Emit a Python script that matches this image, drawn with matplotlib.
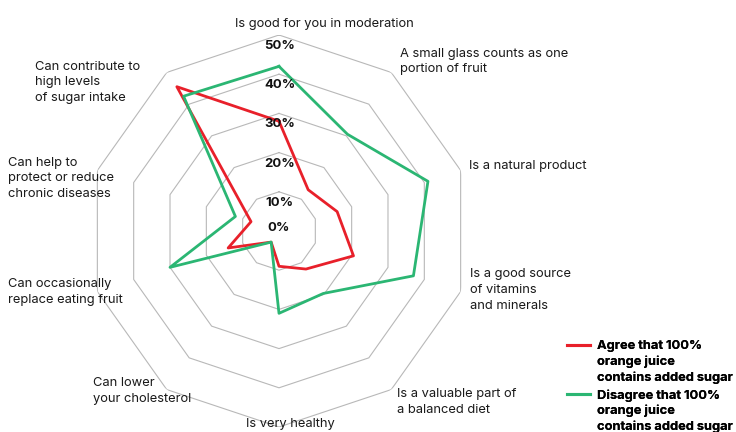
import numpy as np
import matplotlib
matplotlib.use("Agg")
import matplotlib.pyplot as plt
from matplotlib.lines import Line2D

plt.rcParams['font.family'] = ['Inter', 'DejaVu Sans']

categories = [
    "Is good for you in moderation",
    "A small glass counts as one\nportion of fruit",
    "Is a natural product",
    "Is a good source\nof vitamins\nand minerals",
    "Is a valuable part of\na balanced diet",
    "Is very healthy",
    "Can lower\nyour cholesterol",
    "Can occasionally\nreplace eating fruit",
    "Can help to\nprotect or reduce\nchronic diseases",
    "Can contribute to\nhigh levels\nof sugar intake",
]
agree = [28, 13, 16, 20.5, 12, 9, 3.5, 14, 7.7, 45.5]
disagree = [42, 30.5, 41, 37, 19.7, 21, 3.5, 30, 12, 42.5]
ticks = [0, 10, 20, 30, 40, 50]
tick_labels = ["0%", "10%", "20%", "30%", "40%", "50%"]
series_names = [["Agree that 100%", "orange juice", "contains added sugar"],
                ["Disagree that 100%", "orange juice", "contains added sugar"]]

RED = "#E8202A"
GREEN = "#2BB673"
GRID = "#b8b8b8"

W, H = 736, 432
fig = plt.figure(figsize=(W / 100, H / 100), dpi=100)
cx, cy = 279, 231
rx, ry = 191, 196
ax = fig.add_axes([(cx - rx) / W, 1 - (cy + ry) / H, 2 * rx / W, 2 * ry / H],
                  projection='polar')
ax.set_aspect('auto')
ax.set_theta_zero_location('N')
ax.set_theta_direction(-1)
ax.set_ylim(0, 50)
ax.grid(False)
ax.set_xticks([])
ax.set_yticks([])
ax.spines['polar'].set_visible(False)
ax.patch.set_alpha(0)

n = len(categories)
angles = np.arange(n) * 2 * np.pi / n
closed = np.concatenate([angles, angles[:1]])

for t in ticks[1:]:
    ax.plot(closed, [t] * (n + 1), color=GRID, lw=0.8, zorder=1)

ax.plot(closed, agree + agree[:1], color=RED, lw=2.0, zorder=3)
ax.plot(closed, disagree + disagree[:1], color=GREEN, lw=2.0, zorder=3)

for t, lab in zip(ticks, tick_labels):
    r = 0.8 if t == 0 else t - 2.8
    ax.text(0.004, r, lab, ha='center', va='center', fontsize=9.5,
            fontweight='bold', color='#111111', zorder=4)

# category labels (left x, first-line center y in pixels)
label_pos = [
    (235, 22), (400, 52), (469, 164), (470, 273), (397, 393),
    (246, 423), (93, 382), (8, 283), (8, 161), (35, 65),
]
for lab, (px, py) in zip(categories, label_pos):
    fig.text(px / W, 1 - (py - 4.5) / H, lab, ha='left', va='top', fontsize=9.3,
             color='#1a1a1a', linespacing=1.4)

for color, name_lines, top in zip([RED, GREEN], series_names, [340, 389]):
    handles, labels = [], []
    for i, line in enumerate(name_lines):
        handles.append(Line2D([], [], color=color, lw=2.2, alpha=1 if i == 0 else 0))
        labels.append(line)
    leg = fig.legend(handles, labels, loc='upper left',
                     bbox_to_anchor=(567 / W, 1 - top / H), frameon=False,
                     prop={'weight': 'bold', 'size': 9.3}, handlelength=1.75,
                     handletextpad=0.6, borderpad=0, borderaxespad=0,
                     labelspacing=0.25)
    fig.add_artist(leg)

fig.savefig("out.png", dpi=100)
